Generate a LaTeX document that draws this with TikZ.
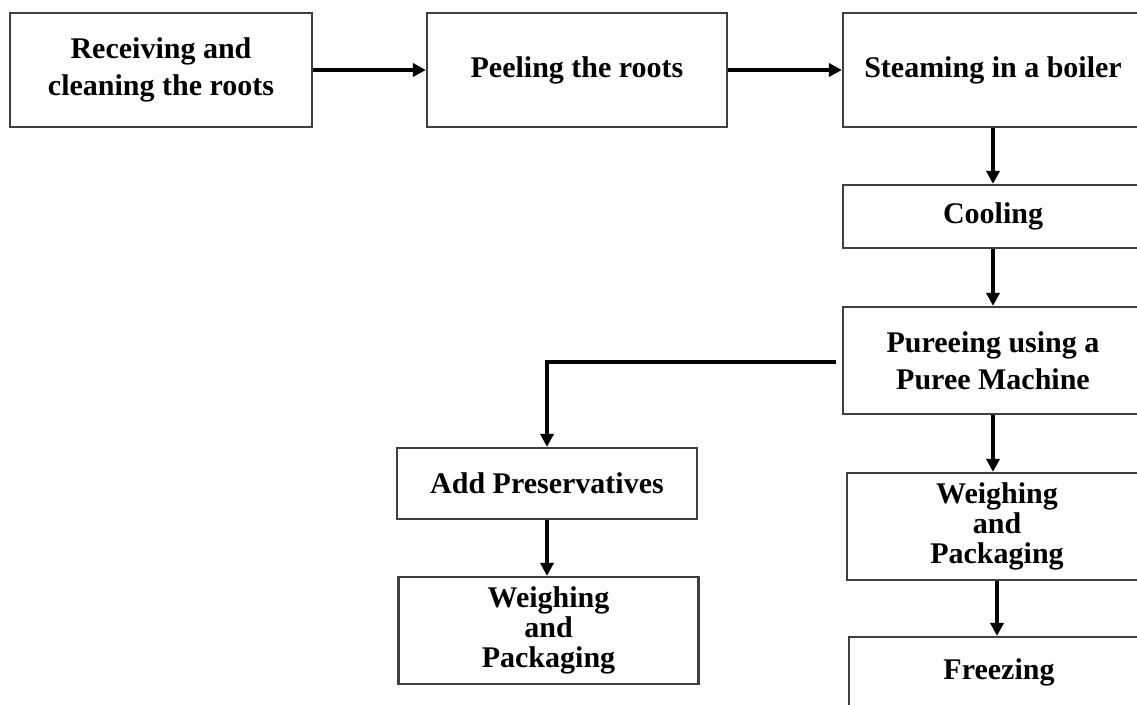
\documentclass[tikz,border=0pt]{standalone}
\usepackage{fontspec}
\setmainfont{Liberation Serif}
\usetikzlibrary{arrows.meta,positioning}

\tikzset{
stage/.style={draw=black!75,line width=2.2pt,rectangle,minimum width=300pt,
  align=center,font=\fontsize{30}{37}\selectfont\bfseries,inner sep=0pt},
flow/.style={line width=3.4pt,-{Triangle[length=13pt,width=13pt]}},
}

\begin{document}
\begin{tikzpicture}[x=1pt,y=1pt]
\clip (0,0) rectangle (1137,704);
\node[stage,minimum width=302pt,minimum height=114pt] (recv) at (161,634) {Receiving and\\cleaning the roots};
\node[stage,minimum height=114pt] (peel) at (577,634) {\raisebox{6pt}{Peeling the roots}};
\node[stage,minimum height=114pt] (steam) at (993,634) {Steaming in a boiler};
\node[stage,minimum height=63pt] (cool) at (993,487.5) {Cooling};
\node[stage,minimum height=107pt] (pure) at (993,343.5) {Pureeing using a\\Puree Machine};
\node[stage,minimum height=71pt] (addp) at (547,220.5) {Add Preservatives};
\node[stage,minimum height=107pt,font=\fontsize{30}{30}\selectfont\bfseries] (weighL) at (548.5,73.5) {Weighing\\and\\Packaging};
\node[stage,minimum height=107pt,font=\fontsize{30}{30}\selectfont\bfseries] (weighR) at (997,177.5) {Weighing\\and\\Packaging};
\node[stage,minimum height=70pt] (freez) at (999,32) {Freezing};

% main line
\draw[flow] (recv) -- (peel);
\draw[flow] (peel) -- (steam);
\draw[flow] (steam) -- (cool);
\draw[flow] (cool) -- (pure);
\draw[flow] (pure.south) -- (pure.south |- weighR.north);
\draw[flow] (weighR.south) -- (weighR.south |- freez.north);
% side branch
\draw[flow] ([xshift=-6pt,yshift=-1.5pt]pure.west) -| (addp.north);
\draw[flow] (addp) -- (addp.south |- weighL.north);
\end{tikzpicture}
\end{document}
